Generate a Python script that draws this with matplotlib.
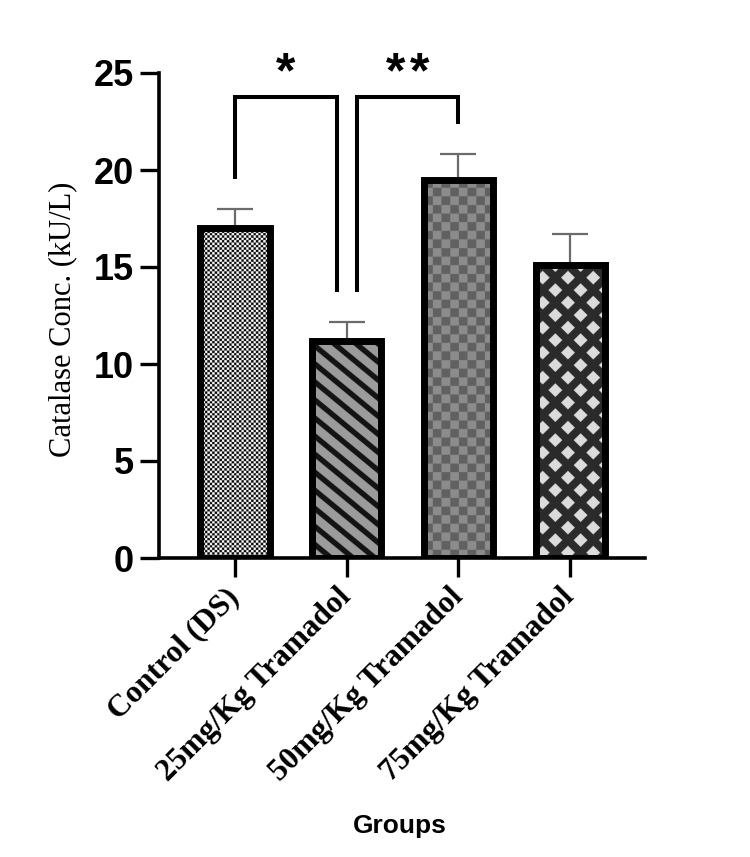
import numpy as np
import matplotlib
matplotlib.use("Agg")
import matplotlib.pyplot as plt

# ---- data ----
groups = ["Control (DS)", "25mg/Kg Tramadol", "50mg/Kg Tramadol", "75mg/Kg Tramadol"]
means = [17.0, 11.2, 19.5, 15.1]
sems = [1.0, 0.95, 1.3, 1.6]
# (left group, right group, label)
comparisons = [(0, 1, "*"), (1, 2, "**")]
fills = ["check_fine", "stripes", "check_gray", "diamonds"]

SANS = "Liberation Sans"
SERIF = "Liberation Serif"


def pattern(kind, w, h, s=4):
    # build a greyscale fill in screen pixels (y counted from the top)
    ny, nx = max(int(round(h * s)), 1), max(int(round(w * s)), 1)
    y, x = np.mgrid[0:ny, 0:nx] / s
    if kind == "check_fine":
        c = 2.4
        v = (np.floor(x / c) + np.floor(y / c)) % 2
        img = np.where(v > 0, 1.0, 0.02)
    elif kind == "stripes":
        d = (y - 0.83 * x) % 18.0
        img = np.where(d < 7.0, 0.08, 0.61)
    elif kind == "check_gray":
        c = 8.6
        v = (np.floor(x / c) + np.floor(y / c)) % 2
        img = np.where(v > 0, 0.55, 0.38)
    else:
        u = x + y + 6.0
        v = x - y + 6.0
        du = np.abs((u + 12.5) % 25 - 12.5)
        dv = np.abs((v + 12.5) % 25 - 12.5)
        img = np.where((du < 7.0) & (dv < 7.0), 0.86, 0.17)
    return img


fig = plt.figure(figsize=(7.5, 8.57), dpi=100)
ax = fig.add_axes([159 / 750, (857 - 558) / 857, 486 / 750, 485 / 857])

xpos = np.arange(len(groups))
bars = ax.bar(xpos, means, width=0.62, facecolor="none", edgecolor="black",
              linewidth=5, zorder=3)
ax.set_xlim(-0.68, 3.67)
ax.set_ylim(0, 25)

# patterned fills clipped to each bar
for b, kind in zip(bars, fills):
    x0, y0 = b.get_x(), b.get_y()
    x1, y1 = x0 + b.get_width(), y0 + b.get_height()
    p0 = ax.transData.transform((x0, y0))
    p1 = ax.transData.transform((x1, y1))
    img = pattern(kind, p1[0] - p0[0], p1[1] - p0[1])
    im = ax.imshow(img, cmap="gray", vmin=0, vmax=1, extent=(x0, x1, y0, y1),
                   aspect="auto", interpolation="antialiased", zorder=2)
    im.set_clip_path(b)

ax.set_aspect("auto")
ax.set_xlim(-0.68, 3.67)
ax.set_ylim(0, 25)

# error bars (upper only)
ax.errorbar(xpos, means, yerr=[np.zeros(len(means)), sems], fmt="none",
            ecolor="#6b6b6b", elinewidth=1.6, capsize=13, capthick=1.6, zorder=2.5)

# significance brackets
top = 23.75
gap = 1.55
inset = 0.09
star_step = 0.21
used = {}
for i, j, lab in comparisons:
    used[i] = used.get(i, 0) + 1
    used[j] = used.get(j, 0) + 1
for i, j, lab in comparisons:
    xl = i + (inset if used[i] > 1 else 0)
    xr = j - (inset if used[j] > 1 else 0)
    yl = means[i] + sems[i] + gap
    yr = means[j] + sems[j] + gap
    ax.plot([xl, xl, xr, xr], [yl, top, top, yr], color="black", lw=2.9,
            solid_joinstyle="miter", solid_capstyle="butt", clip_on=False, zorder=4)
    xm = (xl + xr) / 2
    n = len(lab)
    for k, ch in enumerate(lab):
        ax.text(xm + (k - (n - 1) / 2) * star_step, 23.75, ch, ha="center",
                va="bottom", fontsize=36, fontfamily=SANS, fontweight="bold",
                clip_on=False)

for side in ["top", "right"]:
    ax.spines[side].set_visible(False)
for side in ["left", "bottom"]:
    ax.spines[side].set_linewidth(2.6)

ax.set_yticks([0, 5, 10, 15, 20, 25])
ax.tick_params(axis="both", length=14, width=2.4, direction="out", pad=4)
ax.tick_params(axis="x", pad=11)
for t in ax.get_yticklabels():
    t.set_fontfamily(SANS)
    t.set_fontweight("bold")
    t.set_fontsize(26)

ax.set_xticks(xpos)
ax.set_xticklabels(groups, rotation=45, ha="right", va="center",
                   rotation_mode="anchor", fontfamily=SERIF, fontweight="bold",
                   fontsize=22.5)

ax.set_ylabel("Catalase Conc. (kU/L)", fontfamily=SERIF, fontsize=22)
ax.yaxis.set_label_coords(-0.169, 0.493)

fig.text(400 / 750, 1 - 826 / 857, "Groups", ha="center", va="center",
         fontfamily=SANS, fontweight="bold", fontsize=19)

fig.savefig("out.png", dpi=100)
